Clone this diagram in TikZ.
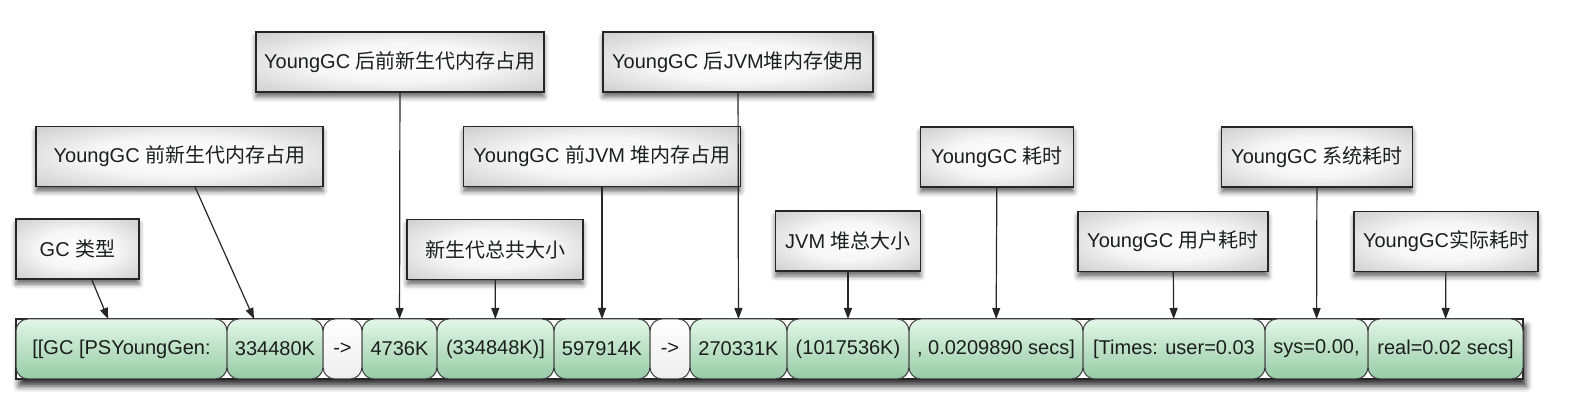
\documentclass[tikz,border=0pt]{standalone}
\usepackage{fontspec}
\setmainfont{Liberation Sans}
\newfontfamily\cjk{Noto Sans CJK SC}
\usetikzlibrary{positioning,arrows.meta,shadows.blur}

\newcommand\zhtext[1]{{\cjk #1}}

\definecolor{celltop}{RGB}{226,246,231}
\definecolor{cellbot}{RGB}{150,204,166}
\definecolor{txt}{RGB}{28,30,30}
\definecolor{silvermid}{RGB}{246,246,246}
\definecolor{silveredge}{RGB}{176,176,176}
\definecolor{silvercorner}{RGB}{146,146,146}
\pgfdeclareradialshading{silver}{\pgfpoint{0bp}{0bp}}{color(0bp)=(white); color(16bp)=(silvermid); color(50bp)=(silveredge); color(72bp)=(silvercorner)}

\tikzset{
  lbl/.style={draw=black!85, line width=1.4pt, shading=silver, minimum height=60pt,
    inner sep=0pt, font=\fontsize{20}{23}\selectfont, text=txt,
    blur shadow={shadow xshift=0pt, shadow yshift=-5pt, shadow blur radius=5pt, shadow opacity=60}},
  cell/.style={draw=black!75, line width=1pt, rounded corners=12pt, top color=celltop,
    bottom color=cellbot, minimum height=60pt, inner sep=0pt, outer sep=0pt,
    font=\fontsize{20}{23}\selectfont, text=txt},
  arrowcell/.style={cell, top color=white, bottom color=white!93!black},
  arr/.style={-{Triangle[length=11pt,width=8pt]}, line width=1.2pt, black!85}
}

\begin{document}
\begin{tikzpicture}[x=1pt,y=-1pt]
  \useasboundingbox (0,0) rectangle (1575,411);

  % the log line
  \node[draw=black!85, line width=1.5pt, fill=white, minimum width=1507pt, minimum height=60pt,
        inner sep=0pt, blur shadow={shadow xshift=3pt, shadow yshift=-7pt, shadow blur radius=6pt, shadow opacity=80}]
        (bar) at (769.5,349) {};
  \node[cell, minimum width=211pt] (c1) at (121.5,349) {[[GC [PSYoungGen:};
  \node[cell, minimum width=96pt]  (c2)  [right=0pt of c1]  {334480K};
  \node[arrowcell, minimum width=39pt] (c3) [right=0pt of c2] {->};
  \node[cell, minimum width=75pt]  (c4)  [right=0pt of c3]  {4736K};
  \node[cell, minimum width=117pt] (c5)  [right=0pt of c4]  {(334848K)]};
  \node[cell, minimum width=96pt]  (c6)  [right=0pt of c5]  {597914K};
  \node[arrowcell, minimum width=40pt] (c7) [right=0pt of c6] {->};
  \node[cell, minimum width=97pt]  (c8)  [right=0pt of c7]  {270331K};
  \node[cell, minimum width=122pt] (c9)  [right=0pt of c8]  {(1017536K)};
  \node[cell, minimum width=174pt] (c10) [right=0pt of c9]  {, 0.0209890 secs]};
  \node[cell, minimum width=182pt] (c11) [right=0pt of c10] {[Times: user=0.03};
  \node[cell, minimum width=103pt] (c12) [right=0pt of c11] {sys=0.00,};
  \node[cell, minimum width=155pt] (c13) [right=0pt of c12] {real=0.02 secs]};

  % labels
  \node[lbl, minimum width=123pt] (b1)  at (77.5,249)   {GC \zhtext{类型}};
  \node[lbl, minimum width=287pt] (b2)  at (179.5,156.5) {YoungGC \zhtext{前新生代内存占用}};
  \node[lbl, minimum width=288pt] (b3)  at (400,62)     {YoungGC \zhtext{后前新生代内存占用}};
  \node[lbl, minimum width=176pt] (b4)  at (495,249.5)  {\zhtext{新生代总共大小}};
  \node[lbl, minimum width=277pt] (b5)  at (602,156.5)  {YoungGC \zhtext{前}JVM \zhtext{堆内存占用}};
  \node[lbl, minimum width=270pt] (b6)  at (738,62)     {YoungGC \zhtext{后}JVM\zhtext{堆内存使用}};
  \node[lbl, minimum width=145pt] (b7)  at (848,241)    {JVM \zhtext{堆总大小}};
  \node[lbl, minimum width=153pt] (b8)  at (997,157)    {YoungGC \zhtext{耗时}};
  \node[lbl, minimum width=190pt] (b9)  at (1173,241.5) {YoungGC \zhtext{用户耗时}};
  \node[lbl, minimum width=191pt] (b10) at (1317,157)   {YoungGC \zhtext{系统耗时}};
  \node[lbl, minimum width=184pt] (b11) at (1446,241.5) {YoungGC\zhtext{实际耗时}};

  \path[arr]
    (b1.-65) edge (c1.114)
    (b2.-63) edge (c2.125)
    (b3)  edge (c4)
    (b4)  edge (c5)
    (b5)  edge (c6)
    (b6)  edge (c8)
    (b7)  edge (c9)
    (b8)  edge (c10)
    (b9)  edge (c11)
    (b10) edge (c12)
    (b11) edge (c13);
\end{tikzpicture}
\end{document}
